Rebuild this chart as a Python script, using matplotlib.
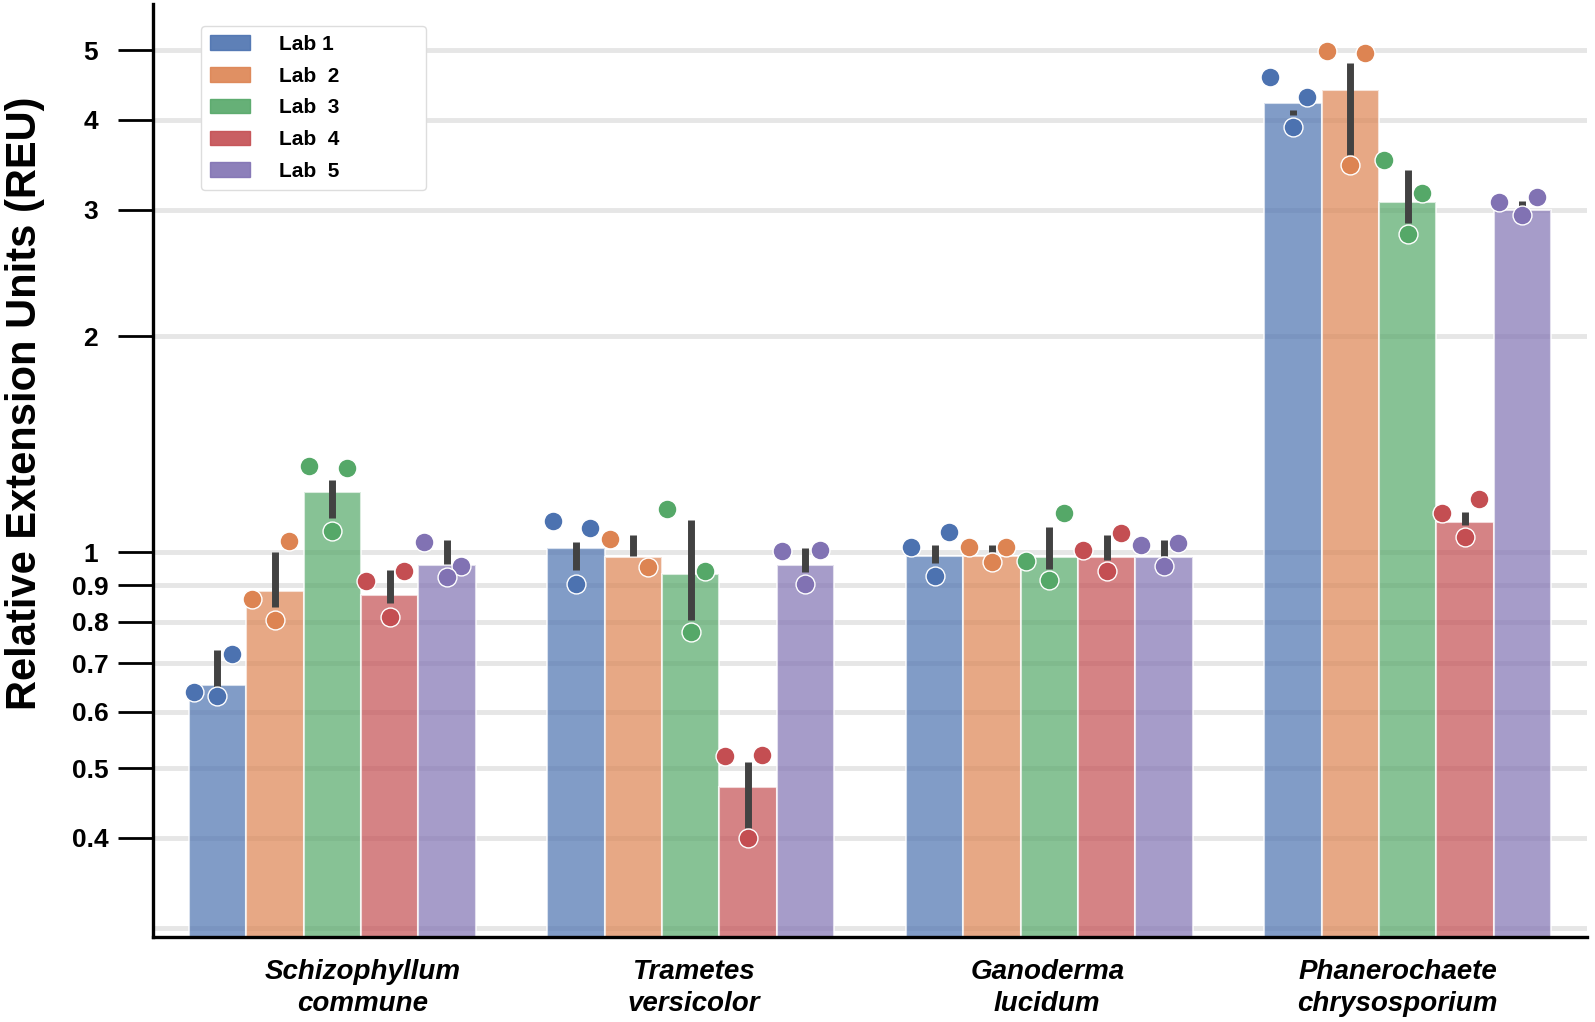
import numpy as np
import matplotlib
matplotlib.use("Agg")
import matplotlib.pyplot as plt
import matplotlib.patches as mpatches
import matplotlib.transforms as mtransforms
from matplotlib.ticker import FixedLocator, NullFormatter

plt.rcParams["font.family"] = ["Liberation Sans", "DejaVu Sans"]

# --- data (Relative Extension Units, log axis) ---
species = ["Schizophyllum\ncommune", "Trametes\nversicolor",
           "Ganoderma\nlucidum", "Phanerochaete\nchrysosporium"]
labs = ["Lab 1", "Lab  2", "Lab  3", "Lab  4", "Lab  5"]
colors = ["#4C72B0", "#DD8452", "#55A868", "#C44E52", "#8172B3"]

# bar heights (mean), one list per lab, one value per species
lab1_mean = [0.653, 1.013, 0.988, 4.23]
lab2_mean = [0.884, 0.986, 0.988, 4.41]
lab3_mean = [1.212, 0.933, 0.984, 3.07]
lab4_mean = [0.872, 0.471, 0.984, 1.103]
lab5_mean = [0.960, 0.959, 0.986, 3.00]

# error bar ends
lab1_lo = [0.629, 0.945, 0.965, 4.06]
lab1_hi = [0.731, 1.034, 1.024, 4.13]
lab2_lo = [0.840, 0.988, 1.002, 3.575]
lab2_hi = [1.002, 1.057, 1.024, 4.80]
lab3_lo = [1.115, 0.805, 0.947, 2.877]
lab3_hi = [1.261, 1.109, 1.086, 3.407]
lab4_lo = [0.851, 0.413, 0.976, 1.091]
lab4_hi = [0.945, 0.511, 1.057, 1.139]
lab5_lo = [0.963, 0.940, 0.988, 3.00]
lab5_hi = [1.040, 1.013, 1.040, 3.08]

# replicate measurements
lab1_pts = [[0.639, 0.721, 0.631], [1.106, 1.080, 0.903],
            [1.018, 1.068, 0.927], [4.587, 4.302, 3.908]]
lab2_pts = [[0.861, 1.038, 0.805], [1.045, 0.955],
            [1.018, 1.018, 0.970], [4.996, 4.964, 3.462]]
lab3_pts = [[1.320, 1.311, 1.071], [1.148, 0.943, 0.775],
            [0.973, 1.133, 0.915], [3.518, 3.169, 2.776]]
lab4_pts = [[0.912, 0.942, 0.813], [0.520, 0.522, 0.400],
            [1.007, 1.065, 0.943], [1.135, 1.185, 1.051]]
lab5_pts = [[1.035, 0.957, 0.925], [1.005, 1.007, 0.903],
            [1.024, 1.029, 0.957], [3.076, 3.125, 2.949]]

means = [lab1_mean, lab2_mean, lab3_mean, lab4_mean, lab5_mean]
los = [lab1_lo, lab2_lo, lab3_lo, lab4_lo, lab5_lo]
his = [lab1_hi, lab2_hi, lab3_hi, lab4_hi, lab5_hi]
pts = [lab1_pts, lab2_pts, lab3_pts, lab4_pts, lab5_pts]

yticks = [0.4, 0.5, 0.6, 0.7, 0.8, 0.9, 1, 2, 3, 4, 5]
ytick_labels = ["0.4", "0.5", "0.6", "0.7", "0.8", "0.9", "1", "2", "3", "4", "5"]

# --- figure ---
fig = plt.figure(figsize=(15.95, 10.22), dpi=100)
ax = fig.add_axes([0.0959, 0.0832, 0.8991, 0.9128])
ax.set_yscale("log")

x = np.arange(len(species))
n = len(labs)
w = 0.8 / n
jitter = [-0.065, 0.04, 0.0]  # strip offsets per replicate (fraction of an x unit)

for i in range(n):
    xpos = x + (i - (n - 1) / 2) * w
    ax.bar(xpos, means[i], width=w, color=colors[i], alpha=0.7,
           edgecolor="white", linewidth=1.5, zorder=2)
    ax.vlines(xpos, los[i], his[i], color=".26", linewidth=5, zorder=3)
    for j, vals in enumerate(pts[i]):
        xs = xpos[j] + np.array(jitter[:len(vals)])
        ax.scatter(xs, vals, s=185, color=colors[i],
                   edgecolor="white", linewidth=1, zorder=4)

ax.set_xlim(-0.5, len(species) - 0.5)
ax.set_ylim(0.2912, 5.80)

ax.set_yticks(yticks, labels=ytick_labels)
ax.yaxis.set_minor_locator(FixedLocator([0.3]))
ax.yaxis.set_minor_formatter(NullFormatter())
ax.tick_params(axis="y", which="major", length=25, width=2, pad=20,
               labelsize=19)
ax.tick_params(axis="y", which="minor", length=0)
for lbl in ax.get_yticklabels():
    lbl.set_fontweight("bold")
    lbl.set_horizontalalignment("center")

ax.set_xticks(x, labels=species)
ax.tick_params(axis="x", length=0, pad=16)
label_shift = [30, 3, -2, -10]  # px, labels sit slightly off the group centres
for lbl, dx in zip(ax.get_xticklabels(), label_shift):
    lbl.set_fontsize(20)
    lbl.set_fontweight("bold")
    lbl.set_fontstyle("italic")
    lbl.set_linespacing(1.3)
    lbl.set_transform(lbl.get_transform() +
                      mtransforms.ScaledTranslation(dx / 100, 0, fig.dpi_scale_trans))

ax.grid(axis="y", which="both", color="#e6e6e6", linewidth=3.5)
ax.set_axisbelow(True)

for s in ["top", "right"]:
    ax.spines[s].set_visible(False)
for s in ["left", "bottom"]:
    ax.spines[s].set_linewidth(2.4)
    ax.spines[s].set_color("black")

ax.set_ylabel("Relative Extension Units (REU)", fontsize=30, fontweight="bold")
ax.yaxis.set_label_coords(-0.075, 0.572)

handles = [mpatches.Patch(facecolor=c, edgecolor=c, alpha=0.9) for c in colors]
leg = ax.legend(handles=handles, labels=labs, loc="upper left",
                bbox_to_anchor=(0.026, 0.988, 0.172, 0), mode="expand",
                prop={"size": 15, "weight": "bold"}, handlelength=1.9,
                handletextpad=1.4, labelspacing=0.61, borderpad=0.45,
                framealpha=1, edgecolor="#dddddd", fancybox=True)

fig.savefig("out.png", dpi=100)
